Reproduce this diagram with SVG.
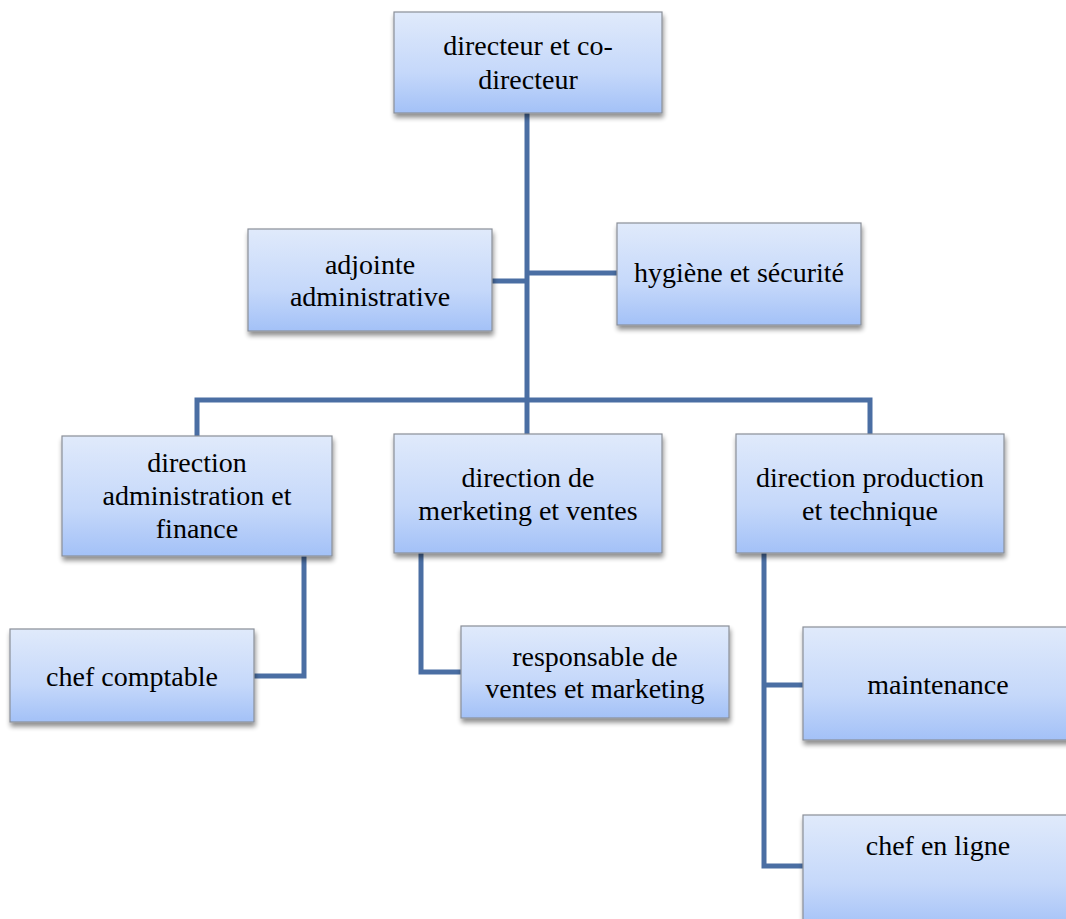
<svg xmlns="http://www.w3.org/2000/svg" width="1066" height="919" viewBox="0 0 1066 919">
<defs>
<linearGradient id="g" x1="0" y1="0" x2="0" y2="1">
<stop offset="0" stop-color="#e0eafb"/>
<stop offset="0.6" stop-color="#c5d8fa"/>
<stop offset="1" stop-color="#a3c1f7"/>
</linearGradient>
<filter id="sh" x="-5%" y="-5%" width="115%" height="125%">
<feGaussianBlur in="SourceAlpha" stdDeviation="2.5"/>
<feOffset dx="1" dy="4" result="b"/>
<feComponentTransfer><feFuncA type="linear" slope="0.45"/></feComponentTransfer>
<feMerge><feMergeNode/><feMergeNode in="SourceGraphic"/></feMerge>
</filter>
</defs>
<style>
.box{fill:url(#g);stroke:#8a8f98;stroke-width:1.2;filter:url(#sh)}
.t{font-size:28px;fill:#000;text-anchor:middle}
.c{fill:none;stroke:#4a6ea3;stroke-width:5;stroke-linejoin:miter}
</style>
<rect width="1066" height="919" fill="#fff"/>
<g id="connectors">
<path class="c" d="M527 113 V400"/>
<path class="c" d="M492 281 H527"/>
<path class="c" d="M527 273 H617"/>
<path class="c" d="M197 436 V400 H870 V434"/>
<path class="c" d="M527 400 V434"/>
<path class="c" d="M304 556 V676 H254"/>
<path class="c" d="M421 553 V672 H461"/>
<path class="c" d="M764 553 V866 H803"/>
<path class="c" d="M764 685 H803"/>
</g>
<g font-family="'Liberation Serif', 'DejaVu Serif', serif">
<g id="n-directeur">
<rect class="box" x="394" y="12" width="268" height="101"/>
<text class="t" x="528" y="55">directeur et co-</text>
<text class="t" x="528" y="89">directeur</text>
</g>
<g id="n-adjointe">
<rect class="box" x="248" y="229" width="244" height="102"/>
<text class="t" x="370" y="274">adjointe</text>
<text class="t" x="370" y="306">administrative</text>
</g>
<g id="n-hygiene">
<rect class="box" x="617" y="223" width="244" height="102"/>
<text class="t" x="739" y="282">hygiène et sécurité</text>
</g>
<g id="n-admin">
<rect class="box" x="62" y="436" width="270" height="120"/>
<text class="t" x="197" y="472">direction</text>
<text class="t" x="197" y="505">administration et</text>
<text class="t" x="197" y="538">finance</text>
</g>
<g id="n-marketing">
<rect class="box" x="394" y="434" width="268" height="119"/>
<text class="t" x="528" y="487">direction de</text>
<text class="t" x="528" y="520">merketing et ventes</text>
</g>
<g id="n-production">
<rect class="box" x="736" y="434" width="268" height="119"/>
<text class="t" x="870" y="487">direction production</text>
<text class="t" x="870" y="520">et technique</text>
</g>
<g id="n-comptable">
<rect class="box" x="10" y="629" width="244" height="93"/>
<text class="t" x="132" y="686">chef comptable</text>
</g>
<g id="n-responsable">
<rect class="box" x="461" y="626" width="268" height="92"/>
<text class="t" x="595" y="666">responsable de</text>
<text class="t" x="595" y="698">ventes et marketing</text>
</g>
<g id="n-maintenance">
<rect class="box" x="803" y="627" width="270" height="113"/>
<text class="t" x="938" y="694">maintenance</text>
</g>
<g id="n-chefligne">
<rect class="box" x="803" y="815" width="270" height="115"/>
<text class="t" x="938" y="855">chef en ligne</text>
</g>
</g>
</svg>
